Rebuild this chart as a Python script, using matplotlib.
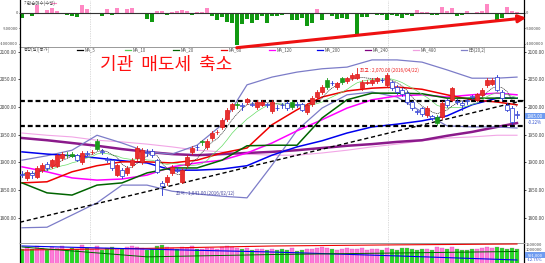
import matplotlib
matplotlib.use("Agg")
import matplotlib.pyplot as plt
import numpy as np
import pandas as pd
from matplotlib.patches import Rectangle, FancyArrowPatch

plt.rcParams['font.family'] = ['Noto Sans CJK KR', 'DejaVu Sans']

# ---------------- data ----------------
inst_net = [
    -161200, -28500, -94300, 254800, 6100, 97400, 158900, 61300, -5200, -66800,
    -93900, -127400, 251600, 126200, 4300, -31800, -98700, 129900, -62500, 163400,
    3800, 124700, 158200, -33600, -7400, -189300, -286900, 62800, 67100, -61900,
    33400, 60200, 95800, 65500, -63700, 31200, 34600, 157300, -97500, -221800,
    -130600, -284700, -318900, -1021500, -348600, -193300, -322400, -226800, -92100, -317500,
    -96400, -98200, -61700, -30900, -225300, -221600, -158700, -413800, -319200, 127600,
    -222900, -29700, -97300, -189800, -161500, -191700, -33400, -702600, -126400, -131800,
    -30200, -63800, -66300, -223500, -62100, -95700, -158600, -64200, -97100, 95300,
    31800, 29400, -63100, -66600, 190700, 62400, 159200, -96300, -61800, 64500,
    -32900, 30800, 66200, 287400, -29800, -224700, -161400, 192900, 63700, 31300]

opens = [1879, 1872, 1880, 1874, 1886, 1897, 1893, 1894, 1908, 1914,
         1915, 1913, 1901, 1917, 1918, 1925, 1920, 1906, 1904, 1878,
         1886, 1881, 1895, 1908, 1901, 1919, 1920, 1904, 1862, 1865,
         1881, 1887, 1865, 1895, 1919, 1928, 1936, 1928, 1944, 1954,
         1964, 1978, 1996, 2003, 2004, 2009, 2006, 2000, 2004, 2005,
         1993, 1999, 2004, 2007, 2000, 2005, 2005, 1991, 2005, 2018,
         2027, 2036, 2044, 2036, 2045, 2047, 2052, 2053, 2034, 2044,
         2043, 2047, 2049, 2040, 2045, 2036, 2031, 2025, 2009, 1993,
         1998, 1985, 1983, 1971, 1982, 2012, 2013, 2010, 2007, 2012,
         2019, 2013, 2022, 2040, 2042, 2054, 2027, 2004, 1998, 1988]
closes = [1878, 1883, 1877, 1890, 1895, 1890, 1904, 1913, 1915, 1913,
          1912, 1905, 1917, 1916, 1919, 1939, 1919, 1904, 1890, 1895,
          1876, 1890, 1904, 1926, 1922, 1917, 1914, 1883, 1857, 1874,
          1892, 1885, 1886, 1910, 1926, 1927, 1938, 1939, 1953, 1955,
          1977, 1995, 2005, 2005, 2002, 2014, 2004, 2009, 2009, 2003,
          2009, 1998, 2003, 1998, 2009, 2003, 1995, 2004, 2016, 2027,
          2036, 2049, 2043, 2043, 2052, 2052, 2058, 2060, 2045, 2046,
          2049, 2052, 2048, 2058, 2034, 2027, 2023, 2009, 1998, 1991,
          1987, 1998, 1981, 1982, 2007, 2004, 2034, 2009, 2003, 2010,
          2018, 2023, 2031, 2049, 2049, 2031, 2016, 1995, 1973, 1985]
highs = [1884, 1887, 1884, 1893, 1899, 1900, 1907, 1916, 1919, 1918,
         1918, 1916, 1920, 1921, 1923, 1943, 1924, 1910, 1906, 1898,
         1890, 1893, 1908, 1930, 1926, 1924, 1924, 1907, 1866, 1878,
         1895, 1891, 1889, 1913, 1929, 1932, 1941, 1942, 1956, 1959,
         1980, 1998, 2008, 2009, 2007, 2017, 2009, 2012, 2012, 2008,
         2012, 2003, 2007, 2010, 2012, 2009, 2008, 2007, 2019, 2031,
         2039, 2052, 2047, 2046, 2055, 2055, 2061, 2070, 2048, 2049,
         2052, 2055, 2052, 2061, 2047, 2039, 2034, 2028, 2011, 1995,
         2000, 2001, 1986, 1985, 2010, 2015, 2037, 2014, 2010, 2015,
         2022, 2026, 2034, 2052, 2052, 2058, 2030, 2007, 2001, 1992]
lows = [1873, 1868, 1872, 1871, 1883, 1886, 1890, 1891, 1905, 1910,
        1909, 1902, 1898, 1913, 1915, 1922, 1915, 1900, 1886, 1875,
        1872, 1877, 1892, 1905, 1898, 1912, 1910, 1880, 1841, 1860,
        1878, 1882, 1862, 1892, 1916, 1923, 1932, 1925, 1941, 1951,
        1961, 1975, 1993, 1998, 1995, 2006, 2001, 1997, 2001, 2000,
        1990, 1994, 1999, 1995, 1997, 2000, 1992, 1988, 2002, 2015,
        2024, 2033, 2039, 2033, 2042, 2044, 2049, 2050, 2031, 2041,
        2040, 2044, 2045, 2037, 2031, 2024, 2020, 2006, 1995, 1988,
        1984, 1982, 1977, 1967, 1979, 2000, 2010, 2005, 1995, 2006,
        2015, 2010, 2019, 2037, 2039, 2028, 2013, 1992, 1969, 1981]
volume = [1210000, 1350000, 1180000, 1420000, 1290000, 1160000, 1330000, 1250000, 1390000, 1120000,
          1270000, 1180000, 1450000, 1300000, 1220000, 1380000, 1150000, 1260000, 1340000, 1190000,
          1230000, 1310000, 1420000, 1360000, 1280000, 1170000, 1240000, 1400000, 1480000, 1350000,
          1290000, 1210000, 1330000, 1260000, 1380000, 1190000, 1240000, 1300000, 1270000, 1220000,
          1360000, 1410000, 1330000, 1250000, 1180000, 1290000, 1160000, 1240000, 1210000, 1150000,
          1230000, 1120000, 1180000, 1140000, 1260000, 1100000, 1170000, 1220000, 1190000, 1280000,
          1310000, 1250000, 1200000, 1160000, 1230000, 1270000, 1180000, 1240000, 1300000, 1150000,
          1210000, 1190000, 1130000, 1260000, 1220000, 1170000, 1250000, 1290000, 1200000, 1140000,
          1180000, 1230000, 1160000, 1320000, 1270000, 1190000, 1350000, 1210000, 1150000, 1170000,
          1240000, 1200000, 1260000, 1310000, 1280000, 1340000, 1250000, 1220000, 1300000, 1190000]
green_days = [9, 10, 15, 36, 43, 54, 61, 64, 83]

line_idx = [0, 5, 10, 15, 20, 25, 30, 35, 40, 45, 50, 55, 60, 65, 70, 75, 80, 85, 90, 95, 99]
bb_upper = [1904, 1912, 1922, 1949, 1935, 1919, 1915, 1931, 1968, 2040, 2054, 2063, 2069, 2072, 2085, 2085, 2081, 2067, 2052, 2052, 2054]
bb_lower = [1782, 1783, 1805, 1827, 1859, 1859, 1848, 1843, 1839, 1836, 1895, 1958, 1998, 2022, 2027, 2018, 1991, 1966, 1964, 1964, 1962]
base_line = [1863, 1845, 1841, 1859, 1863, 1881, 1890, 1890, 1904, 1930, 1931, 1931, 1980, 2013, 2025, 2025, 2024, 2016, 2016, 2016, 2016]
ma_red = [1863, 1865, 1883, 1894, 1901, 1901, 1899, 1904, 1917, 1926, 1968, 1995, 2018, 2029, 2034, 2036, 2032, 2022, 2013, 2009, 2004]
ma_magenta = [1892, 1883, 1872, 1868, 1870, 1877, 1892, 1899, 1904, 1917, 1935, 1957, 1977, 1998, 2013, 2020, 2022, 2018, 2022, 2025, 2022]
ma_blue = [1919, 1915, 1912, 1908, 1903, 1899, 1886, 1886, 1888, 1894, 1913, 1928, 1939, 1953, 1964, 1969, 1975, 1984, 2004, 2016, 2016]
ma_purple = [1944, 1940, 1935, 1930, 1924, 1919, 1915, 1913, 1915, 1917, 1919, 1922, 1926, 1930, 1933, 1937, 1940, 1948, 1955, 1964, 1971]
ma_pink = [1953, 1949, 1946, 1940, 1937, 1933, 1928, 1922, 1919, 1915, 1913, 1913, 1917, 1922, 1928, 1933, 1939, 1944, 1946, 1949, 1949]

trend_idx = [-0.4, 100.4]
trend_val = [1792, 2012]
levels = [2011, 1966]
month_breaks = [13.6, 73.2]
price_ticks = [1800, 1850, 1900, 1950, 2000, 2050, 2100]
inst_ticks = [0, -500000, -1000000]

vol_idx = [0, 25, 50, 75, 99]
vol_red = [1145000, 1250000, 1405000, 1480000, 1535000]
vol_blue = [1405000, 1200000, 1015000, 760000, 495000]
vol_green = [1340000, 700000, 850000, 950000, 1050000]

title = "기관  매도세  축소"
legend_items = [("MA_5", '#000000'), ("MA_10", '#55cc55'), ("MA_20", '#006400'),
                ("MA_60", '#ee0000'), ("MA_120", '#ff00ff'), ("MA_200", '#0000ee'),
                ("MA_240", '#800080'), ("MA_480", '#f0a0e0'), ("BB(20,2)", '#8080c8')]

# ---------------- layout ----------------
W, H = 545, 263
fig = plt.figure(figsize=(W / 100, H / 100), dpi=100)
fig.patch.set_facecolor('white')


def box(x0, y0, x1, y1):
    return [x0 / W, 1 - y1 / H, (x1 - x0) / W, (y1 - y0) / H]


ax_top = fig.add_axes(box(20, 0, 524, 47.5))
ax = fig.add_axes(box(20, 47.5, 524, 243))
ax_vol = fig.add_axes(box(20, 243, 524, 263))

n = len(closes)
x = np.arange(n)
XL = (-0.4, 100.4)

for a in (ax_top, ax, ax_vol):
    a.set_xlim(*XL)
    a.set_xticks([])
    for s in ('left', 'right'):
        a.spines[s].set_color('black')
        a.spines[s].set_linewidth(0.9)
    a.spines['top'].set_visible(False)
    a.spines['bottom'].set_color('#999999')
    a.spines['bottom'].set_linewidth(0.7)
    a.tick_params(axis='y', which='both', length=1.5, width=0.5, labelsize=3.4,
                  labelcolor='#444444', pad=1, left=True, right=True,
                  labelleft=True, labelright=True)
    for mb in month_breaks:
        a.axvline(mb, color='#bbbbbb', lw=0.5, ls=(0, (1, 1.5)), zorder=0)

# ---------------- top panel ----------------
inst = np.array(inst_net)
cols = np.where(inst >= 0, '#ff88c4', '#119911')
ax_top.bar(x, inst, width=0.72, color=cols, zorder=2)
ax_top.axhline(0, color='#333333', lw=0.8, zorder=3)
ax_top.set_ylim(-1113600, 406400)
ax_top.set_yticks(inst_ticks)
ax_top.set_yticklabels([f"{v}" for v in inst_ticks])
ax_top.tick_params(axis='y', labelsize=2.9, pad=0.5, length=1.0)
ax_top.text(0.3, 380000, "기관순매수(수량)", fontsize=3.2, color='#555555', va='top', ha='left')
ax_top.plot([5.8, 6.8], [300000, 300000], color='#ff88c4', lw=0.8)

# ---------------- main panel ----------------
ax.set_ylim(1754.5, 2107.4)
ax.set_yticks(price_ticks)
ax.set_yticklabels([f"{v:.2f}" for v in price_ticks])

# indicator lines
ax.plot(line_idx, ma_pink, color='#f2a6e6', lw=0.8, zorder=2)
ax.plot(line_idx, ma_purple, color='#8b1a8b', lw=1.8, zorder=2)
ax.plot(line_idx, bb_upper, color='#7c7cc8', lw=0.9, zorder=2)
ax.plot(line_idx, bb_lower, color='#7c7cc8', lw=0.9, zorder=2)
ax.plot(line_idx, ma_blue, color='#0000ee', lw=1.1, zorder=3)
ax.plot(line_idx, ma_magenta, color='#ff00ff', lw=1.1, zorder=3)
ax.plot(line_idx, ma_red, color='#ee0000', lw=1.1, zorder=3)
ax.plot(line_idx, base_line, color='#006400', lw=1.1, zorder=3)

cl = pd.Series(closes, dtype=float)
ax.plot(x, cl.rolling(10, min_periods=1).mean(), color='#66dd66', lw=0.5, zorder=3)
ax.plot(x, cl.rolling(5, min_periods=1).mean(), color='#222222', lw=0.45,
        ls=(0, (2, 1)), zorder=3)

# trend and levels
ax.plot(trend_idx, trend_val, color='black', lw=1.0, ls=(0, (3, 2)), zorder=4)
for lv in levels:
    ax.axhline(lv, color='black', lw=1.6, ls=(0, (2.2, 1.3)), zorder=4)

# candles
for i in range(n):
    o, c, h, l = opens[i], closes[i], highs[i], lows[i]
    if i in green_days:
        ec, fc = '#1a9a1a', '#1a9a1a'
    elif c >= o:
        ec, fc = '#e01818', '#e83030'
    else:
        ec, fc = '#2030d0', 'white'
    ax.plot([i, i], [l, h], color=ec, lw=0.6, zorder=5)
    bot = min(o, c)
    ht = max(abs(c - o), 0.9)
    ax.add_patch(Rectangle((i - 0.36, bot), 0.72, ht, facecolor=fc, edgecolor=ec,
                           lw=0.5, zorder=6))

# annotations
imax = int(np.argmax(highs))
imin = int(np.argmin(lows))
ax.text(imax + 0.6, highs[imax] - 3, f"최고 : {highs[imax]:,.2f} (2016/04/22)",
        fontsize=3.4, color='#ee2222', ha='left', va='center', zorder=7)
ax.text(imin + 2.8, lows[imin] + 3, f"최저 : {lows[imin]:,.2f} (2016/02/12)",
        fontsize=3.4, color='#4848a0', ha='left', va='center', zorder=7)

# legend row
ax.text(0.3, 2103, "종합(일)[종가]", fontsize=3.1, color='#555555', ha='left', va='center')
xpos = 11.0
for name, colr in legend_items:
    ax.plot([xpos, xpos + 1.2], [2103, 2103], color=colr, lw=0.9, zorder=7)
    ax.text(xpos + 1.5, 2103, name, fontsize=3.1, color='#555555', ha='left', va='center')
    xpos += 9.6

# title
fig.text(166 / W, 1 - 65 / H, title, color='#ff1010', fontsize=13,
         ha='center', va='center')

# current price box
fig.patches.append(Rectangle((525 / W, 1 - 119 / H), 20 / W, 6 / H,
                             transform=fig.transFigure, facecolor='#6f9cf0',
                             edgecolor='none'))
fig.text(535 / W, 1 - 116 / H, f"{closes[-1]:.2f}", fontsize=3.2, color='white',
         ha='center', va='center')
fig.text(535 / W, 1 - 122.5 / H, "-0.22%", fontsize=3.2, color='#3050d0',
         ha='center', va='center')

# ---------------- volume panel ----------------
vol = np.array(volume)
vcols = ['#ff7ad8' if closes[i] >= opens[i] else '#22dd22' for i in range(n)]
ax_vol.bar(x, vol, width=0.8, color=vcols, edgecolor='#cc44aa', lw=0.2, zorder=2)
ax_vol.plot(vol_idx, vol_red, color='#ee0000', lw=0.8, zorder=3)
ax_vol.plot(vol_idx, vol_blue, color='#0000ee', lw=0.8, zorder=3)
ax_vol.plot(vol_idx, vol_green, color='#006400', lw=0.7, zorder=3)
ax_vol.set_ylim(300000, 1600000)
ax_vol.set_yticks([])
ax_vol.spines['bottom'].set_visible(False)
ax_vol.spines['top'].set_visible(True)
ax_vol.spines['top'].set_color('#999999')
ax_vol.spines['top'].set_linewidth(0.7)
fig.text(526 / W, 1 - 245 / H, "1500000", fontsize=3.0, color='#444444', ha='left', va='center')
fig.text(526 / W, 1 - 250 / H, "1000000", fontsize=3.0, color='#444444', ha='left', va='center')
fig.patches.append(Rectangle((525 / W, 1 - 257.5 / H), 20 / W, 5.5 / H,
                             transform=fig.transFigure, facecolor='#6f9cf0',
                             edgecolor='none'))
fig.text(535 / W, 1 - 255 / H, "591,000", fontsize=3.0, color='white', ha='center', va='center')
fig.text(535 / W, 1 - 260 / H, "-12.75%", fontsize=3.0, color='#3050d0', ha='center', va='center')

# red arrow across the top panel
arrow = FancyArrowPatch((234 / W, 1 - 48 / H), (529 / W, 1 - 17.5 / H),
                        transform=fig.transFigure, arrowstyle='-|>',
                        mutation_scale=11, lw=2.2, color='#ee1111', zorder=10)
fig.patches.append(arrow)

fig.savefig("out.png", dpi=100)
